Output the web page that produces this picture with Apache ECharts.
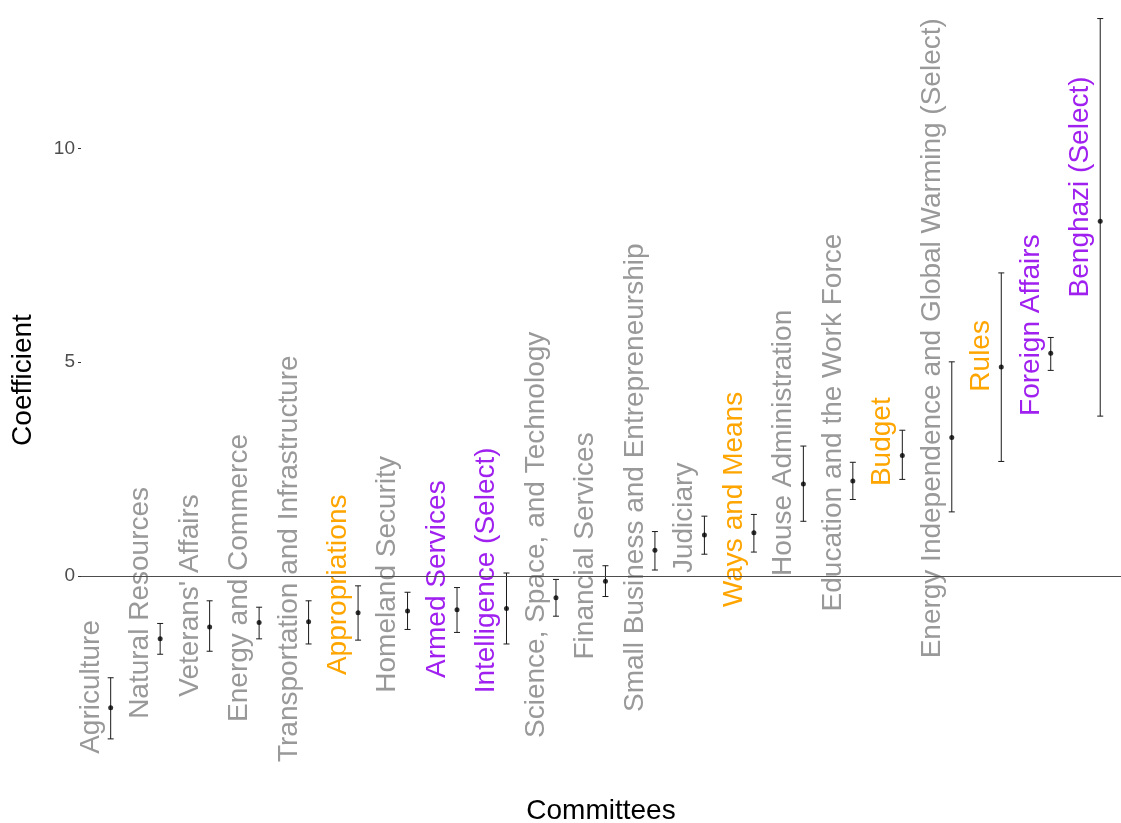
<!DOCTYPE html>
<html>
<head>
<meta charset="utf-8">
<title>Committee coefficients</title>
<script src="https://cdn.jsdelivr.net/npm/echarts@6/dist/echarts.min.js"></script>
<style>
  html, body { margin: 0; padding: 0; background: #ffffff; }
  #chart { width: 1121px; height: 823px; }
</style>
</head>
<body>
<div id="chart"></div>
<script>
// Committees, ordered by estimated coefficient
const committees = [
  "Agriculture", "Natural Resources", "Veterans' Affairs", "Energy and Commerce",
  "Transportation and Infrastructure", "Appropriations", "Homeland Security",
  "Armed Services", "Intelligence (Select)", "Science, Space, and Technology",
  "Financial Services", "Small Business and Entrepreneurship", "Judiciary",
  "Ways and Means", "House Administration", "Education and the Work Force",
  "Budget", "Energy Independence and Global Warming (Select)", "Rules",
  "Foreign Affairs", "Benghazi (Select)"
];
// committee type used for the label colour
const committeeType = [
  "other", "other", "other", "other", "other", "exclusive", "other",
  "security", "security", "other", "other", "other", "other",
  "exclusive", "other", "other", "exclusive", "other", "exclusive",
  "security", "security"
];
// point estimates and 95% interval bounds
const coefficient = [-3.08, -1.47, -1.19, -1.09, -1.07, -0.86, -0.82, -0.79, -0.76, -0.51,
  -0.12, 0.60, 0.96, 1.01, 2.15, 2.22, 2.82, 3.24, 4.89, 5.21, 8.30];
const lower = [-3.81, -1.83, -1.76, -1.47, -1.59, -1.50, -1.25, -1.32, -1.59, -0.94,
  -0.48, 0.14, 0.51, 0.56, 1.28, 1.79, 2.26, 1.50, 2.68, 4.81, 3.74];
const upper = [-2.38, -1.11, -0.58, -0.73, -0.58, -0.23, -0.38, -0.27, 0.07, -0.08,
  0.24, 1.04, 1.40, 1.44, 3.04, 2.66, 3.41, 5.01, 7.09, 5.58, 13.04];
// y-axis tick values
const yTicks = [0, 5, 10];

const typeColor = { other: "#999999", exclusive: "#FFA500", security: "#A020F0" };
const labelFont = "Liberation Sans";
const labelSize = 28;

// text width helper so labels can be anchored partway along their length
const measureCtx = document.createElement("canvas").getContext("2d");
function textWidth(str) {
  measureCtx.font = labelSize + "px \"" + labelFont + "\"";
  return measureCtx.measureText(str).width;
}

const pointData = committees.map((c, i) => [i, coefficient[i]]);
const intervalData = committees.map((c, i) => [i, lower[i], upper[i]]);

function renderInterval(params, api) {
  const i = api.value(0);
  const lo = api.coord([i, api.value(1)]);
  const hi = api.coord([i, api.value(2)]);
  const cap = 3;
  const style = { stroke: "#1a1a1a", lineWidth: 1 };
  return {
    type: "group",
    children: [
      { type: "line", shape: { x1: lo[0], y1: lo[1], x2: hi[0], y2: hi[1] }, style: style },
      { type: "line", shape: { x1: lo[0] - cap, y1: lo[1], x2: lo[0] + cap, y2: lo[1] }, style: style },
      { type: "line", shape: { x1: hi[0] - cap, y1: hi[1], x2: hi[0] + cap, y2: hi[1] }, style: style }
    ]
  };
}

function renderLabel(params, api) {
  const idx = params.dataIndex;
  const name = committees[idx];
  const p = api.coord([api.value(0) - 0.4, api.value(1)]);
  const len = textWidth(name);
  return {
    type: "text",
    x: p[0],
    y: p[1],
    rotation: Math.PI / 2,
    style: {
      text: name,
      x: -0.345 * len,
      y: 0,
      align: "left",
      verticalAlign: "middle",
      fill: typeColor[committeeType[idx]],
      fontSize: labelSize,
      fontFamily: labelFont
    }
  };
}

const chart = echarts.init(document.getElementById("chart"), null, { renderer: "canvas" });
chart.setOption({
  backgroundColor: "#ffffff",
  animation: false,
  grid: { left: 81, right: 0, top: 5, bottom: 68, containLabel: false, outerBoundsMode: "none" },
  xAxis: {
    type: "value",
    min: -0.6,
    max: 20.42,
    axisLine: { show: false, onZero: false },
    axisTick: { show: false },
    axisLabel: { show: false },
    splitLine: { show: false },
    name: "Committees",
    nameLocation: "middle",
    nameGap: 42,
    nameTextStyle: { fontSize: 28, color: "#000000", fontFamily: labelFont }
  },
  yAxis: {
    type: "value",
    min: -4.187,
    max: 13.357,
    axisLine: { show: false, onZero: false },
    splitLine: { show: false },
    axisTick: { show: true, length: 3, customValues: yTicks, lineStyle: { color: "#333333" } },
    axisLabel: { customValues: yTicks, margin: 6, fontSize: 19, color: "#4D4D4D", fontFamily: labelFont },
    name: "Coefficient",
    nameLocation: "middle",
    nameRotate: 90,
    nameGap: 44,
    nameTextStyle: { fontSize: 28, color: "#000000", fontFamily: labelFont }
  },
  series: [
    {
      type: "custom",
      name: "labels",
      clip: false,
      silent: true,
      renderItem: renderLabel,
      data: pointData,
      z: 1
    },
    {
      type: "custom",
      name: "interval",
      clip: false,
      silent: true,
      renderItem: renderInterval,
      data: intervalData,
      z: 3
    },
    {
      type: "scatter",
      name: "coefficient",
      data: pointData,
      symbol: "circle",
      symbolSize: 5,
      itemStyle: { color: "#000000" },
      silent: true,
      z: 4,
      markLine: {
        silent: true,
        symbol: "none",
        label: { show: false },
        lineStyle: { color: "#4D4D4D", width: 1, type: "solid" },
        data: [{ yAxis: 0 }]
      }
    }
  ]
});
</script>
</body>
</html>
